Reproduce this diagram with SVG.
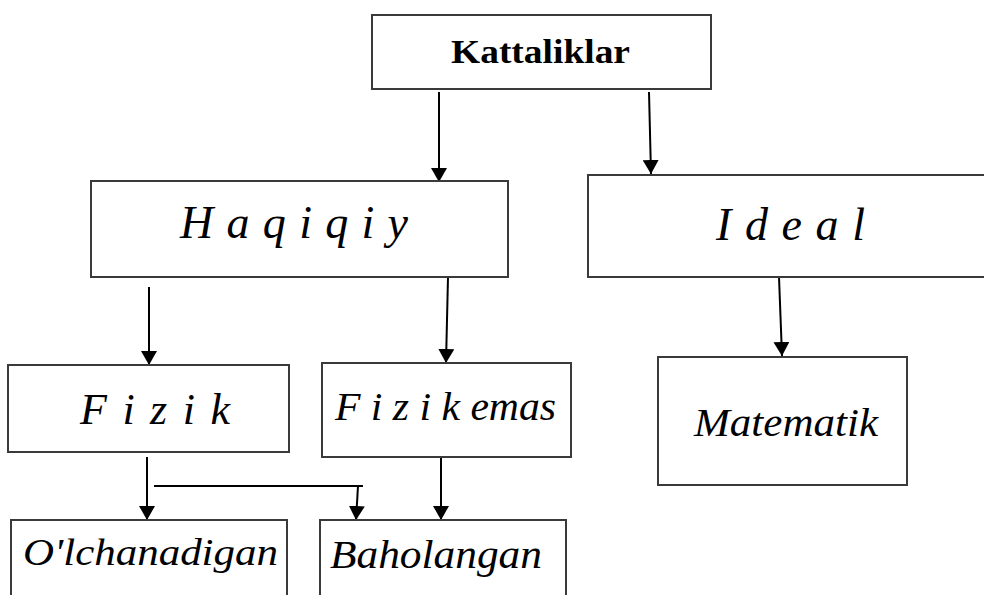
<svg xmlns="http://www.w3.org/2000/svg" width="984" height="595" viewBox="0 0 984 595">
<style>
.box{fill:#fff;stroke:#3a3a3a;stroke-width:2}
.t{font-family:"Liberation Serif","Times New Roman",serif;font-style:italic;fill:#000;text-anchor:start}
.b{font-family:"Liberation Serif","Times New Roman",serif;font-weight:bold;fill:#000}
.c{stroke:#000;stroke-width:2;fill:none}
</style>
<defs>
<marker id="ah" viewBox="0 0 14 16" refX="14" refY="8" markerWidth="14" markerHeight="16" markerUnits="userSpaceOnUse" orient="auto">
<path d="M0,0 L14,8 L0,16 Z" fill="#000"/>
</marker>
</defs>
<rect width="984" height="595" fill="#fff"/>
<g id="connectors">
<line class="c" x1="439" y1="92" x2="439" y2="182" marker-end="url(#ah)"/>
<line class="c" x1="649" y1="92" x2="651" y2="174" marker-end="url(#ah)"/>
<line class="c" x1="149" y1="287" x2="149" y2="365" marker-end="url(#ah)"/>
<line class="c" x1="448" y1="277" x2="446" y2="363" marker-end="url(#ah)"/>
<line class="c" x1="779" y1="277" x2="782" y2="356" marker-end="url(#ah)"/>
<line class="c" x1="147" y1="457" x2="147" y2="520" marker-end="url(#ah)"/>
<line class="c" x1="154" y1="486" x2="363" y2="486"/>
<line class="c" x1="358" y1="486" x2="356" y2="520" marker-end="url(#ah)"/>
<line class="c" x1="441" y1="457" x2="441" y2="520" marker-end="url(#ah)"/>
</g>
<g id="kattaliklar">
<rect class="box" x="372" y="15" width="339" height="74"/>
<text class="b" x="451" y="63" font-size="34" textLength="179" lengthAdjust="spacingAndGlyphs">Kattaliklar</text>
</g>
<g id="haqiqiy">
<rect class="box" x="91" y="181" width="417" height="96"/>
<text class="t" x="180" y="238" font-size="46" textLength="228" lengthAdjust="spacing">H a q i q i y</text>
</g>
<g id="ideal">
<rect class="box" x="588" y="175" width="420" height="102"/>
<text class="t" x="716" y="240" font-size="46" textLength="149" lengthAdjust="spacing">I d e a l</text>
</g>
<g id="fizik">
<rect class="box" x="8" y="365" width="281" height="87"/>
<text class="t" x="80" y="424" font-size="44" textLength="150" lengthAdjust="spacing">F i z i k</text>
</g>
<g id="fizik-emas">
<rect class="box" x="322" y="363" width="249" height="94"/>
<text class="t" x="335" y="420" font-size="40" textLength="221" lengthAdjust="spacingAndGlyphs">F i z i k emas</text>
</g>
<g id="matematik">
<rect class="box" x="658" y="357" width="249" height="128"/>
<text class="t" x="694" y="436" font-size="40" textLength="184" lengthAdjust="spacingAndGlyphs">Matematik</text>
</g>
<g id="olchanadigan">
<rect class="box" x="11" y="520" width="276" height="90"/>
<text class="t" x="23" y="565" font-size="38" textLength="255" lengthAdjust="spacingAndGlyphs">O'lchanadigan</text>
</g>
<g id="baholangan">
<rect class="box" x="320" y="520" width="246" height="90"/>
<text class="t" x="330" y="568" font-size="39" textLength="212" lengthAdjust="spacingAndGlyphs">Baholangan</text>
</g>
</svg>
